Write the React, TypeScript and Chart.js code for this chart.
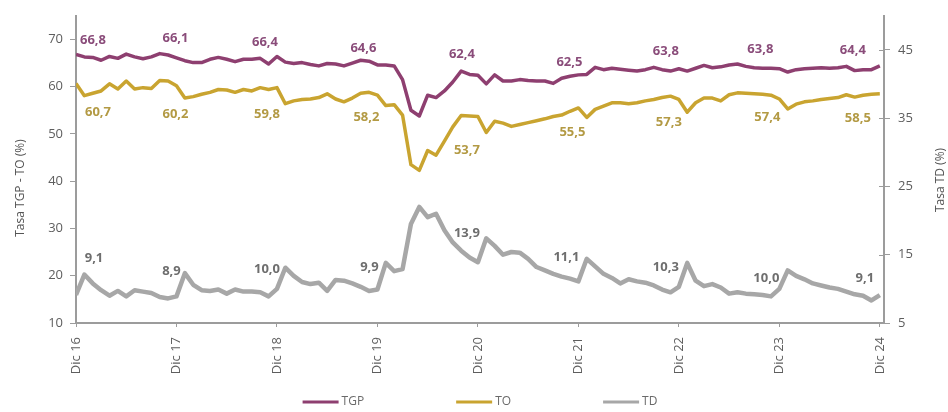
import { useEffect, useRef } from 'react';
import { Chart, registerables } from 'chart.js';

Chart.register(...registerables);

// ---- Data (monthly, Dic 16 .. Dic 24) ----
const xTickLabels = ['Dic 16', 'Dic 17', 'Dic 18', 'Dic 19', 'Dic 20', 'Dic 21', 'Dic 22', 'Dic 23', 'Dic 24'];
const xTickPositions = [0, 12, 24, 36, 48, 60, 72, 84, 96];
const leftTicks = [10, 20, 30, 40, 50, 60, 70];
const rightTicks = [5, 15, 25, 35, 45];

const tgp = [
  66.8, 66.3, 66.2, 65.6, 66.4, 66.0, 66.9, 66.3, 65.9, 66.3, 67.0, 66.7,
  66.1, 65.5, 65.1, 65.1, 65.8, 66.2, 65.8, 65.3, 65.8, 65.8, 66.0, 64.8,
  66.4, 65.2, 64.9, 65.1, 64.7, 64.4, 64.9, 64.8, 64.4, 65.0, 65.6, 65.4,
  64.6, 64.6, 64.4, 61.5, 55.0, 53.8, 58.2, 57.7, 59.1, 61.0, 63.3, 62.6,
  62.4, 60.6, 62.5, 61.2, 61.2, 61.5, 61.3, 61.2, 61.2, 60.7, 61.8, 62.2,
  62.5, 62.6, 64.1, 63.6, 63.9, 63.7, 63.5, 63.3, 63.6, 64.1, 63.6, 63.3,
  63.8, 63.3, 63.9, 64.5, 64.0, 64.2, 64.6, 64.8, 64.3, 64.0, 63.9, 63.9,
  63.8, 63.1, 63.6, 63.8, 63.9, 64.0, 63.9, 64.0, 64.3, 63.4, 63.6, 63.6,
  64.4,
];

const to = [
  60.7, 58.1, 58.6, 59.1, 60.6, 59.5, 61.2, 59.5, 59.8, 59.6, 61.3, 61.2,
  60.2, 57.6, 57.9, 58.4, 58.8, 59.4, 59.3, 58.8, 59.4, 59.1, 59.8, 59.4,
  59.8, 56.4, 57.0, 57.3, 57.4, 57.7, 58.5, 57.4, 56.8, 57.6, 58.6, 58.8,
  58.2, 56.0, 56.2, 54.0, 43.5, 42.3, 46.5, 45.5, 48.5, 51.5, 53.9, 53.8,
  53.7, 50.3, 52.7, 52.3, 51.6, 52.0, 52.4, 52.8, 53.2, 53.7, 54.0, 54.8,
  55.5, 53.5, 55.2, 55.9, 56.6, 56.6, 56.4, 56.6, 57.0, 57.3, 57.7, 58.0,
  57.3, 54.6, 56.6, 57.6, 57.6, 57.0, 58.3, 58.7, 58.6, 58.5, 58.4, 58.2,
  57.4, 55.3, 56.3, 56.8, 57.0, 57.3, 57.5, 57.7, 58.3, 57.8, 58.2, 58.4,
  58.5,
];

const td = [
  9.1, 12.1, 10.8, 9.8, 9.0, 9.7, 8.9, 9.8, 9.6, 9.4, 8.8, 8.6,
  8.9, 12.3, 10.6, 9.8, 9.7, 9.9, 9.3, 9.9, 9.6, 9.6, 9.5, 8.9,
  10.0, 13.1, 11.9, 11.0, 10.7, 10.9, 9.7, 11.3, 11.2, 10.8, 10.3, 9.7,
  9.9, 13.8, 12.6, 12.9, 19.5, 22.0, 20.5, 21.0, 18.6, 16.8, 15.6, 14.6,
  13.9, 17.4, 16.3, 15.0, 15.4, 15.3, 14.4, 13.2, 12.7, 12.2, 11.8, 11.5,
  11.1, 14.4, 13.3, 12.2, 11.6, 10.8, 11.4, 11.1, 10.9, 10.5, 9.9, 9.5,
  10.3, 13.8, 11.2, 10.4, 10.7, 10.2, 9.3, 9.5, 9.3, 9.2, 9.1, 8.9,
  10.0, 12.7, 11.9, 11.4, 10.8, 10.5, 10.2, 10.0, 9.6, 9.2, 9.0, 8.3,
  9.1,
];

// December values written on the chart
const tgpLabels = [66.8, 66.1, 66.4, 64.6, 62.4, 62.5, 63.8, 63.8, 64.4];
const toLabels = [60.7, 60.2, 59.8, 58.2, 53.7, 55.5, 57.3, 57.4, 58.5];
const tdLabels = [9.1, 8.9, 10.0, 9.9, 13.9, 11.1, 10.3, 10.0, 9.1];

// label placement offsets (px) relative to each December point
const tgpDx = [17, -1, -12, -14, -16, -9, -13, -19, -27];
const tgpDy = [-14, -20, -14, -17, -21, -13, -17, -19, -16];
const toDx = [22, -1, -10, -11, -11, -6, -10, -12, -22];
const toDy = [29, 29, 27, 22, 34, 24, 23, 18, 25];
const tdDx = [18, -5, -10, -8, -11, -12, -13, -13, -15];
const tdDy = [-37, -25, -20, -22, -29, -24, -20, -11, -17];

const COLORS = {
  tgp: '#8e3f70',
  to: '#c9a430',
  td: '#a7a7a7',
  tgpText: '#8a4c7a',
  toText: '#b39a44',
  tdText: '#6e6e6e',
  axis: '#9c9c9c',
  tick: '#5e5e5e',
};

const FONT = '"Open Sans", "Noto Sans", sans-serif';

const fmt = (v: number) => v.toFixed(1).replace('.', ',');

const decorPlugin = {
  id: 'decor',
  afterDatasetsDraw(chart: any) {
    const { ctx, chartArea } = chart;
    const xs = chart.scales.x;
    const yl = chart.scales.y;
    const yr = chart.scales.y1;
    ctx.save();

    // crossing tick marks on right axis
    ctx.strokeStyle = COLORS.axis;
    ctx.lineWidth = 1;
    rightTicks.forEach((v) => {
      const y = Math.round(yr.getPixelForValue(v)) + 0.5;
      ctx.beginPath();
      ctx.moveTo(chartArea.right - 5, y);
      ctx.lineTo(chartArea.right, y);
      ctx.stroke();
    });

    // value annotations
    ctx.font = `bold 13px ${FONT}`;
    ctx.textAlign = 'center';
    ctx.textBaseline = 'middle';
    const groups = [
      { vals: tgpLabels, dx: tgpDx, dy: tgpDy, scale: yl, color: COLORS.tgpText },
      { vals: toLabels, dx: toDx, dy: toDy, scale: yl, color: COLORS.toText },
      { vals: tdLabels, dx: tdDx, dy: tdDy, scale: yr, color: COLORS.tdText },
    ];
    groups.forEach((g) => {
      ctx.fillStyle = g.color;
      g.vals.forEach((v, k) => {
        const x = xs.getPixelForValue(xTickPositions[k]) + g.dx[k];
        const y = g.scale.getPixelForValue(v) + g.dy[k];
        ctx.fillText(fmt(v), x, y);
      });
    });

    // axis titles (both read bottom-to-top)
    ctx.font = `12px ${FONT}`;
    ctx.fillStyle = '#555555';
    ctx.save();
    ctx.translate(21, 188);
    ctx.rotate(-Math.PI / 2);
    ctx.fillText('Tasa TGP - TO (%)', 0, 0);
    ctx.restore();
    ctx.save();
    ctx.translate(941, 180);
    ctx.rotate(-Math.PI / 2);
    ctx.fillText('Tasa TD (%)', 0, 0);
    ctx.restore();

    // legend
    ctx.font = `12px ${FONT}`;
    const lineW = 36;
    const gapText = 3;
    const gapItem = 92;
    const items = chart.data.datasets.map((d: any) => ({
      label: d.label,
      color: d.borderColor,
      w: lineW + gapText + ctx.measureText(d.label).width,
    }));
    const total = items.reduce((s: number, it: any) => s + it.w, 0) + gapItem * (items.length - 1);
    let x0 = (chartArea.left + chartArea.right) / 2 - total / 2;
    const ly = 402;
    items.forEach((it: any) => {
      ctx.strokeStyle = it.color;
      ctx.lineWidth = 3;
      ctx.beginPath();
      ctx.moveTo(x0, ly);
      ctx.lineTo(x0 + lineW, ly);
      ctx.stroke();
      ctx.fillStyle = '#6a6a6a';
      ctx.textAlign = 'left';
      ctx.fillText(it.label, x0 + lineW + gapText, ly);
      x0 += it.w + gapItem;
    });

    ctx.restore();
  },
};

export default function App() {
  const ref = useRef<HTMLCanvasElement | null>(null);

  useEffect(() => {
    if (!ref.current) return;
    Chart.defaults.font.family = FONT;
    const pts = (arr: number[]) => arr.map((v, i) => ({ x: i, y: v }));
    const chart = new Chart(ref.current, {
      type: 'line',
      data: {
        datasets: [
          {
            label: 'TGP',
            data: pts(tgp),
            yAxisID: 'y',
            borderColor: COLORS.tgp,
            borderWidth: 3.5,
            pointRadius: 0,
            tension: 0,
            borderJoinStyle: 'round',
          },
          {
            label: 'TO',
            data: pts(to),
            yAxisID: 'y',
            borderColor: COLORS.to,
            borderWidth: 3.5,
            pointRadius: 0,
            tension: 0,
            borderJoinStyle: 'round',
          },
          {
            label: 'TD',
            data: pts(td),
            yAxisID: 'y1',
            borderColor: COLORS.td,
            borderWidth: 4.5,
            pointRadius: 0,
            tension: 0,
            borderJoinStyle: 'round',
          },
        ],
      },
      options: {
        animation: false,
        responsive: false,
        layout: { padding: { top: 12, left: 0, right: 0, bottom: 0 } },
        plugins: { legend: { display: false }, tooltip: { enabled: false } },
        scales: {
          x: {
            type: 'linear',
            min: 0,
            max: 96.5,
            afterBuildTicks: (scale: any) => {
              scale.ticks = xTickPositions.map((v) => ({ value: v }));
            },
            afterFit: (scale: any) => {
              scale.height = 89;
            },
            ticks: {
              autoSkip: false,
              minRotation: 90,
              maxRotation: 90,
              padding: 10,
              color: COLORS.tick,
              font: { size: 13 },
              callback: (v: any) => xTickLabels[xTickPositions.indexOf(Number(v))] ?? '',
            },
            grid: { drawOnChartArea: false, drawTicks: true, tickLength: 4, color: COLORS.axis },
            border: { display: true, color: COLORS.axis, width: 2 },
          },
          y: {
            type: 'linear',
            position: 'left',
            min: 10,
            max: 75,
            afterBuildTicks: (scale: any) => {
              scale.ticks = leftTicks.map((v) => ({ value: v }));
            },
            afterFit: (scale: any) => {
              scale.width = 76;
            },
            ticks: { color: COLORS.tick, font: { size: 13 }, padding: 7 },
            grid: { drawOnChartArea: false, drawTicks: true, tickLength: 6, color: COLORS.axis },
            border: { display: true, color: COLORS.axis, width: 2 },
          },
          y1: {
            type: 'linear',
            position: 'right',
            min: 5,
            max: 50,
            afterBuildTicks: (scale: any) => {
              scale.ticks = rightTicks.map((v) => ({ value: v }));
            },
            afterFit: (scale: any) => {
              scale.width = 64;
            },
            ticks: { color: COLORS.tick, font: { size: 13 }, padding: 8 },
            grid: { drawOnChartArea: false, drawTicks: true, tickLength: 6, color: COLORS.axis },
            border: { display: true, color: COLORS.axis, width: 2 },
          },
        },
      },
      plugins: [decorPlugin],
    } as any);
    return () => chart.destroy();
  }, []);

  return (
    <div style={{ position: 'fixed', left: 0, top: 0, width: 948, height: 412, background: '#ffffff' }}>
      <canvas ref={ref} width={948} height={412} style={{ display: 'block' }} />
    </div>
  );
}
